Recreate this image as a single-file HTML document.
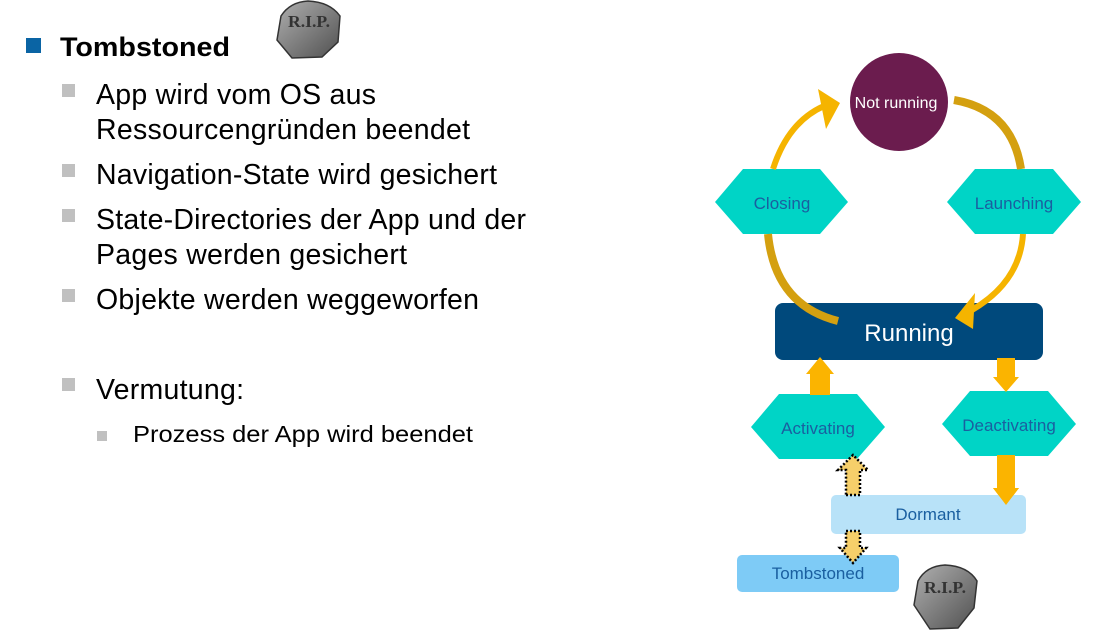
<!DOCTYPE html>
<html><head><meta charset="utf-8"><style>
html,body{margin:0;padding:0;background:#fff;width:1108px;height:640px;overflow:hidden}
svg{display:block;font-family:"Liberation Sans",Arial,sans-serif}
</style></head><body>
<svg width="1108" height="640" viewBox="0 0 1108 640" xmlns="http://www.w3.org/2000/svg">
<defs>
<linearGradient id="stone" x1="0" y1="0" x2="1" y2="1"><stop offset="0" stop-color="#b0b0b0"/><stop offset="0.5" stop-color="#808080"/><stop offset="1" stop-color="#505050"/></linearGradient>
</defs>
<!-- left text -->
<rect x="26" y="38" width="15" height="15" fill="#0a64a4"/>
<text x="60" y="56" font-size="27" font-weight="bold" fill="#000" textLength="170" lengthAdjust="spacingAndGlyphs">Tombstoned</text>
<path d="M281 16 Q290 2 308 1 Q330 2 340 16 L338 42 L322 57 L292 58 L277 40 Z" fill="url(#stone)" stroke="#333" stroke-width="1.5"/>
<text x="288" y="27" font-size="17" font-family="Liberation Serif,serif" font-weight="bold" fill="#333" textLength="42" lengthAdjust="spacingAndGlyphs">R.I.P.</text>
<g fill="#c0c0c0">
<rect x="62" y="84" width="13" height="13"/><rect x="62" y="164" width="13" height="13"/>
<rect x="62" y="209" width="13" height="13"/><rect x="62" y="289" width="13" height="13"/>
<rect x="62" y="378" width="13" height="13"/><rect x="97" y="431" width="10" height="10"/>
</g>
<g font-size="28.5" fill="#000" lengthAdjust="spacingAndGlyphs">
<text x="96" y="104" textLength="280">App wird vom OS aus</text>
<text x="96" y="139" textLength="374">Ressourcengründen beendet</text>
<text x="96" y="184" textLength="401">Navigation-State wird gesichert</text>
<text x="96" y="229" textLength="430">State-Directories der App und der</text>
<text x="96" y="264" textLength="311">Pages werden gesichert</text>
<text x="96" y="309" textLength="383">Objekte werden weggeworfen</text>
<text x="96" y="399" textLength="148">Vermutung:</text>
</g>
<text x="133" y="442" font-size="23" fill="#000" textLength="340" lengthAdjust="spacingAndGlyphs">Prozess der App wird beendet</text>

<!-- not running -->
<circle cx="899" cy="102" r="49" fill="#6b1c4e"/>
<text x="896" y="108" font-size="16" fill="#fff" text-anchor="middle">Not running</text>

<!-- hexagons -->
<g fill="#00d4c6">
<polygon points="715,202 743,169 820,169 848,202 820,234 743,234"/>
<polygon points="947,202 975,169 1053,169 1081,202 1053,234 975,234"/>
<polygon points="751,427 779,394 857,394 885,427 857,459 779,459"/>
<polygon points="942,424 970,391 1048,391 1076,424 1048,456 970,456"/>
</g>
<g font-size="17" fill="#1a5fa0" text-anchor="middle">
<text x="782" y="209">Closing</text>
<text x="1014" y="209">Launching</text>
<text x="818" y="434">Activating</text>
<text x="1009" y="431">Deactivating</text>
</g>

<!-- running -->
<rect x="775" y="303" width="268" height="57" rx="8" fill="#00497c"/>
<text x="909" y="341" font-size="24" fill="#fff" text-anchor="middle">Running</text>

<!-- arcs -->
<path d="M838 321 Q775 305 768 234" fill="none" stroke="#d4a010" stroke-width="8"/>
<path d="M773 169 Q788 122 824 106" fill="none" stroke="#f5b400" stroke-width="6"/>
<polygon points="840,103 818,89 826,129" fill="#f5b400"/>
<path d="M954 100 Q1012 110 1021 169" fill="none" stroke="#d4a010" stroke-width="8"/>
<path d="M1023 234 Q1020 282 972 310" fill="none" stroke="#f5b400" stroke-width="6"/>
<polygon points="955,318 975,293 973,329" fill="#f5b400"/>

<!-- straight arrows -->
<g fill="#fbb400">
<polygon points="810,395 830,395 830,374 834,374 820,357 806,374 810,374"/>
<polygon points="997,358 1015,358 1015,377 1019,377 1006,392 993,377 997,377"/>
<polygon points="997,455 1015,455 1015,488 1019,488 1006,505 993,488 997,488"/>
</g>

<!-- dormant / tombstoned -->
<rect x="831" y="495" width="195" height="39" rx="5" fill="#b8e2f8"/>
<text x="928" y="520" font-size="17" fill="#1a5fa0" text-anchor="middle">Dormant</text>
<rect x="737" y="555" width="162" height="37" rx="5" fill="#7ecbf6"/>
<text x="818" y="579" font-size="17" fill="#1a5fa0" text-anchor="middle">Tombstoned</text>
<polygon points="1006,505 993,488 1019,488" fill="#fbb400"/>

<!-- dotted arrows -->
<g fill="#f6cf6a" stroke="#000" stroke-width="2.5" stroke-dasharray="2,2">
<polygon points="846,495 860,495 860,470 868,470 853,455 838,470 846,470"/>
<polygon points="846,531 860,531 860,548 866,548 853,563 840,548 846,548"/>
</g>

<!-- tombstone 2 -->
<path d="M918 581 Q926 566 945 565 Q968 566 977 581 L974 608 L958 628 L930 629 L914 605 Z" fill="url(#stone)" stroke="#333" stroke-width="1.5"/>
<text x="924" y="593" font-size="17" font-family="Liberation Serif,serif" font-weight="bold" fill="#333" textLength="42" lengthAdjust="spacingAndGlyphs">R.I.P.</text>
</svg>
</body></html>
